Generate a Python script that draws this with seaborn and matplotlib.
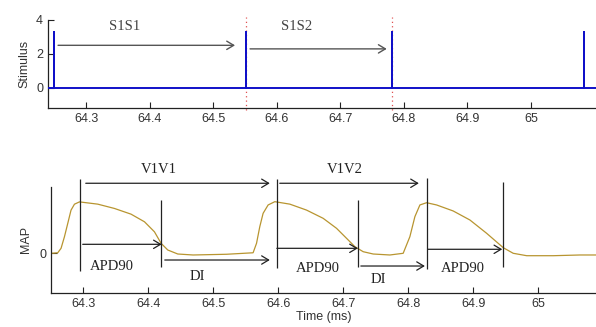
import numpy as np
import pandas as pd
import matplotlib
matplotlib.use("Agg")
import matplotlib.pyplot as plt
import seaborn as sns

# ---------------- data ----------------
x_ticks = [64.3, 64.4, 64.5, 64.6, 64.7, 64.8, 64.9, 65.0]
x_tick_labels = ["64.3", "64.4", "64.5", "64.6", "64.7", "64.8", "64.9", "65"]
stim_y_ticks = [0, 2, 4]
map_y_ticks = [0]

stim_times = [64.25, 64.551, 64.782, 65.083]
stim_amp = 3.3

map_t = [64.2512, 64.2611, 64.2662, 64.2714, 64.2765, 64.2815, 64.2868, 64.2945,
         64.3226, 64.3483, 64.3738, 64.3945, 64.4098, 64.42, 64.4303, 64.4457,
         64.4692, 64.5206, 64.5615, 64.5668, 64.5718, 64.5769, 64.5846, 64.5949,
         64.618, 64.6437, 64.6692, 64.6898, 64.7052, 64.718, 64.7308, 64.7462,
         64.7718, 64.7923, 64.8026, 64.8103, 64.818, 64.8283,
         64.8437, 64.8692, 64.8949, 64.9206, 64.9462, 64.9615, 64.9822,
         65.0231, 65.0642, 65.0888]
map_v = [0.0, 0.01, 0.097, 0.322, 0.582, 0.84, 0.957, 1.002,
         0.958, 0.874, 0.763, 0.614, 0.419, 0.195, 0.064, -0.014,
         -0.033, -0.019, 0.01, 0.195, 0.519, 0.779, 0.942, 1.006,
         0.958, 0.842, 0.682, 0.487, 0.292, 0.129, 0.031, -0.014,
         -0.033, 0.0, 0.324, 0.714, 0.942, 0.986,
         0.942, 0.825, 0.649, 0.39, 0.109, 0.0, -0.047,
         -0.047, -0.033, -0.033]

# vertical markers on MAP panel: time, top, bottom
mark_t = [64.295, 64.4206, 64.598, 64.7231, 64.829, 64.946]
mark_top = [1.448, 1.039, 1.448, 1.039, 1.468, 1.396]
mark_bot = [-0.339, -0.261, -0.287, -0.267, -0.306, -0.261]

# interval arrows on MAP panel
map_arrow_start = [64.3042, 64.6025, 64.2995, 64.4257, 64.598, 64.7272, 64.8303]
map_arrow_end = [64.5872, 64.8164, 64.421, 64.5872, 64.7226, 64.8257, 64.9446]
map_arrow_y = [1.365, 1.365, 0.175, -0.131, 0.097, -0.248, 0.078]

map_labels = ["V1V1", "V1V2", "APD90", "DI", "APD90", "DI", "APD90"]
map_label_x = [64.4165, 64.7026, 64.3442, 64.4765, 64.6611, 64.7534, 64.8837]
map_label_y = [1.624, 1.624, -0.261, -0.456, -0.292, -0.507, -0.292]

stim_arrow_start = [64.256, 64.558]
stim_arrow_end = [64.5344, 64.773]
stim_arrow_y = [2.51, 2.30]
stim_labels = ["S1S1", "S1S2"]
stim_label_x = [64.3613, 64.6314]
stim_label_y = [3.59, 3.59]

# ---------------- style ----------------
sns.set_style("ticks", {"xtick.direction": "in", "ytick.direction": "in"})
plt.rcParams["font.family"] = ["Liberation Sans", "DejaVu Sans"]

fig = plt.figure(figsize=(5.96, 3.27), dpi=100)
W, H = 596, 327

def axpos(l, t, r, b):
    return [l / W, 1 - b / H, (r - l) / W, (b - t) / H]

ax1 = fig.add_axes(axpos(48, 20, 596, 108))
ax2 = fig.add_axes(axpos(51.3, 186.7, 596, 293))

tick_kw = dict(labelsize=9, length=4, width=0.8, colors="#222222", labelcolor="#333333")
serif = ["Liberation Serif", "DejaVu Serif"]

# ---- top: stimulus ----
xlim1 = (64.2402, 65.1022)
st_x, st_y = [xlim1[0]], [0.0]
for t in stim_times:
    st_x += [t, t, t]
    st_y += [0.0, stim_amp, 0.0]
st_x.append(xlim1[1]); st_y.append(0.0)
stim_df = pd.DataFrame({"t": st_x, "v": st_y})
sns.lineplot(data=stim_df, x="t", y="v", ax=ax1, sort=False, estimator=None,
             color="#1010c8", lw=1.4, zorder=3)
ax1.set_xlim(*xlim1)
ax1.set_ylim(-1.18, 4)
ax1.set_xticks(x_ticks)
ax1.set_xticklabels(x_tick_labels)
ax1.set_yticks(stim_y_ticks)
ax1.set_xlabel("")
ax1.set_ylabel("Stimulus", fontsize=9, color="#333333", labelpad=4)
ax1.tick_params(**tick_kw)
for t in stim_times[1:3]:
    ax1.plot([t, t], [-1.29, 4.18], ls=(0, (1, 2.5)), color="#e05050", lw=0.9,
             clip_on=False, zorder=1)
for x0, x1, y in zip(stim_arrow_start, stim_arrow_end, stim_arrow_y):
    ax1.annotate("", xy=(x1, y), xytext=(x0, y), annotation_clip=False,
                 arrowprops=dict(arrowstyle="->,head_length=0.5,head_width=0.3",
                                 color="#555555", lw=1.0, shrinkA=0, shrinkB=0,
                                 mutation_scale=10))
for s, x, y in zip(stim_labels, stim_label_x, stim_label_y):
    ax1.text(x, y, s, ha="center", va="center", fontsize=10.5, family=serif,
             color="#444444")

# ---- bottom: MAP ----
map_df = pd.DataFrame({"t": map_t, "v": map_v})
sns.lineplot(data=map_df, x="t", y="v", ax=ax2, sort=False, estimator=None,
             color="#b89530", lw=0.9)
ax2.set_xlim(64.2512, 65.0888)
ax2.set_ylim(-0.774, 1.298)
ax2.set_xticks(x_ticks)
ax2.set_xticklabels(x_tick_labels)
ax2.set_yticks(map_y_ticks)
ax2.set_xlabel("Time (ms)", fontsize=9, color="#333333", labelpad=1)
ax2.set_ylabel("MAP", fontsize=9, color="#333333", labelpad=5)
ax2.tick_params(**tick_kw)
ax2.vlines(mark_t, mark_bot, mark_top, color="#222222", lw=0.9, clip_on=False)
for x0, x1, y in zip(map_arrow_start, map_arrow_end, map_arrow_y):
    ax2.annotate("", xy=(x1, y), xytext=(x0, y), annotation_clip=False,
                 arrowprops=dict(arrowstyle="->,head_length=0.5,head_width=0.3",
                                 color="#222222", lw=0.9, shrinkA=0, shrinkB=0,
                                 mutation_scale=10))
for s, x, y in zip(map_labels, map_label_x, map_label_y):
    ax2.text(x, y, s, ha="center", va="center", fontsize=10.5, family=serif,
             color="#222222")

for ax in (ax1, ax2):
    sns.despine(ax=ax)
    for sp in ("left", "bottom"):
        ax.spines[sp].set_color("#222222")
        ax.spines[sp].set_linewidth(0.9)

fig.savefig("out.png", dpi=100)
